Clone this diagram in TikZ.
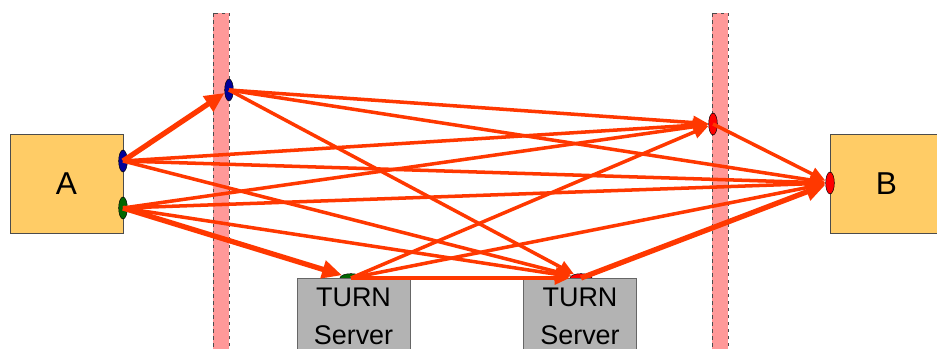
\documentclass[tikz,border=0pt]{standalone}
\usepackage{fontspec}
\setmainfont{Liberation Sans}
\usepackage{tikz}
\usetikzlibrary{shapes.geometric,arrows.meta}
\definecolor{flowRed}{RGB}{255,56,0}
\definecolor{hostFill}{RGB}{255,204,102}
\definecolor{natFill}{RGB}{255,153,153}
\definecolor{turnFill}{RGB}{179,179,179}

\begin{document}
\begin{tikzpicture}[x=0.03cm,y=-0.03cm,
    host/.style={draw=black!70,fill=hostFill,inner sep=0,minimum width=3.39cm,
                 minimum height=2.97cm,font=\fontsize{27}{30}\selectfont},
    relay/.style={draw=black!60,fill=turnFill,inner sep=0,minimum width=3.39cm,
                  minimum height=2.31cm,align=center,
                  font=\fontsize{23}{32}\selectfont},
    nat/.style={draw=black!70,dashed,fill=natFill},
    vport/.style={ellipse,draw=black,inner sep=0,minimum width=0.26cm,minimum height=0.66cm},
    hport/.style={ellipse,draw=black,inner sep=0,minimum width=0.66cm,minimum height=0.26cm},
    cand/.style={draw=flowRed,line width=3pt,-{Triangle[length=13pt,width=11pt]}},
    direct/.style={draw=flowRed,line width=4.5pt,-{Triangle[length=17pt,width=15pt]}},
  ]
    \useasboundingbox (0,0) rectangle (937,349);
    \clip (0,0) rectangle (937,349);

    \foreach \x in {213,712}
      \draw[nat] (\x,13) rectangle ++(16,345);

    \node[host] (hostA) at (66.5,183.5) {A};
    \node[host] (hostB) at (886.5,183.5) {B};

    \node[hport,fill=green!40!black] (turnLp) at (351,278) {};
    \node[hport,fill=red]            (turnRp) at (581,278) {};
    \node[relay] (turnL) at (353.5,316.5) {TURN\\Server};
    \node[relay] (turnR) at (580,316.5)   {TURN\\Server};

    \node[vport,fill=blue!60!black]  (aBlue)  at (123,161) {};
    \node[vport,fill=green!40!black] (aGreen) at (123,208) {};
    \node[vport,fill=blue!60!black]  (natL)   at (229,90)  {};
    \node[vport,fill=red]            (natR)   at (713,124) {};
    \node[vport,fill=red]            (bRed)   at (830,183) {};

    \foreach \s/\t in {aBlue/natR,aBlue/bRed,aBlue/turnRp,
                       aGreen/natR,aGreen/bRed,aGreen/turnRp,
                       natL/natR,natL/bRed,natL/turnRp,
                       turnLp/natR,turnLp/bRed,turnLp/turnRp,
                       natR/bRed}
      \draw[cand] (\s.center) -- (\t);

    \draw[direct] (aBlue.center)  -- (natL);
    \draw[direct] (aGreen.center) -- (turnLp);
    \draw[direct] (turnRp.center) -- (bRed);

  \end{tikzpicture}
\end{document}
